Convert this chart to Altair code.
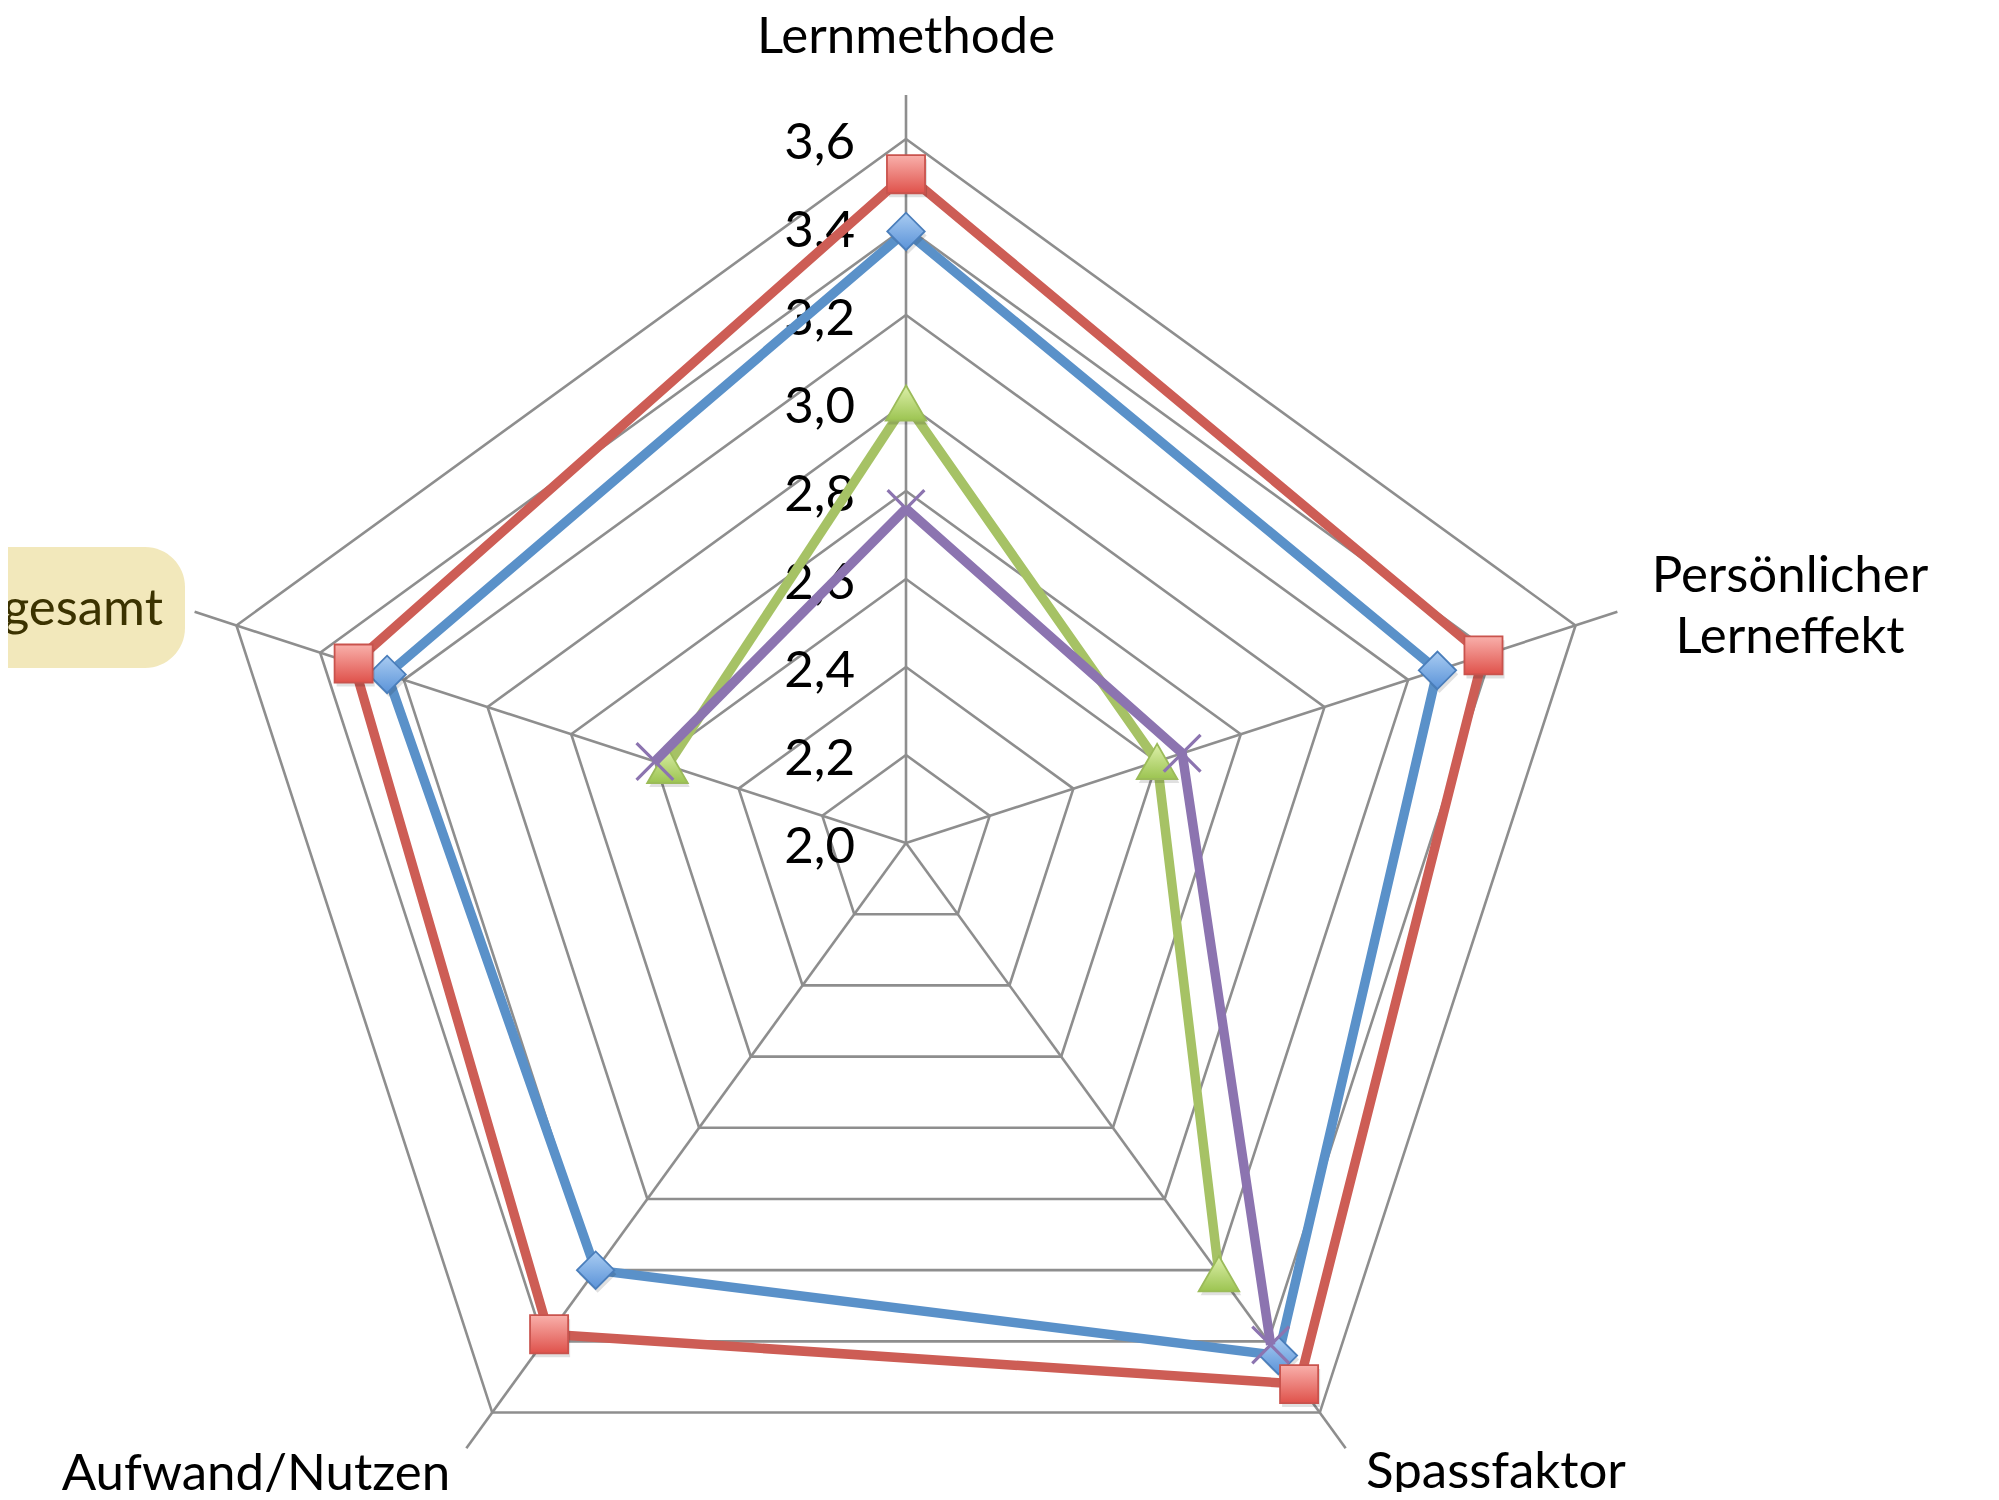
import math
import altair as alt
import pandas as pd

# ---------------- data ----------------
categories = ["Lernmethode", "Persönlicher Lerneffekt", "Spassfaktor", "Aufwand/Nutzen", "gesamt"]
series_names = ["Reihe 1", "Reihe 2", "Reihe 3", "Reihe 4"]
blue_values = [3.39, 3.27, 3.44, 3.20, 3.24]
red_values = [3.52, 3.38, 3.52, 3.38, 3.32]
green_values = [3.00, 2.60, 3.21, None, 2.57]
purple_values = [2.76, 2.66, 3.41, None, 2.60]
tick_values = [2.0, 2.2, 2.4, 2.6, 2.8, 3.0, 3.2, 3.4, 3.6]
tick_labels = ["2,0", "2,2", "2,4", "2,6", "2,8", "3,0", "3,2", "3,4", "3,6"]
axis_min = 2.0
spoke_max = 3.7

# ---------------- layout ----------------
W, H = 1983, 1484
CX, CY = 898, 835
K = 440.0
FONT = "Lato"
FS = 51

xscale = alt.Scale(domain=[-CX / K, (W - CX) / K], range=[0, W], nice=False, zero=False)
yscale = alt.Scale(domain=[-(H - CY) / K, CY / K], range=[H, 0], nice=False, zero=False)


def polar(value, idx):
    r = value - axis_min
    ang = math.radians(72 * idx)
    return r * math.sin(ang), r * math.cos(ang)


def X(f="x"):
    return alt.X(f"{f}:Q", scale=xscale, axis=None)


def Y(f="y"):
    return alt.Y(f"{f}:Q", scale=yscale, axis=None)


GRID = "#8E8E8E"

# rings
ring_rows = []
for lvl in tick_values[1:]:
    for j in range(6):
        x, y = polar(lvl, j % 5)
        ring_rows.append({"level": lvl, "ord": j, "x": x, "y": y})
rings = alt.Chart(pd.DataFrame(ring_rows)).mark_line(color=GRID, strokeWidth=2.6).encode(
    x=X(), y=Y(), detail="level:N", order="ord:Q"
)

# spokes
spoke_rows = []
for i in range(5):
    x2, y2 = polar(spoke_max, i)
    spoke_rows.append({"x": 0.0, "y": 0.0, "x2": x2, "y2": y2})
spokes = alt.Chart(pd.DataFrame(spoke_rows)).mark_rule(color=GRID, strokeWidth=2.6).encode(
    x=X(), y=Y(), x2="x2:Q", y2="y2:Q"
)

# tick labels
tick_df = pd.DataFrame({"x": [0.0] * len(tick_values),
                        "y": [v - axis_min for v in tick_values],
                        "label": tick_labels})
ticks = alt.Chart(tick_df).mark_text(
    align="right", baseline="middle", dx=-51, dy=5, font=FONT, fontSize=FS, color="black"
).encode(x=X(), y=Y(), text="label:N")


def grad(c1, c2):
    return alt.Gradient(
        gradient="linear",
        stops=[alt.GradientStop(color=c1, offset=0), alt.GradientStop(color=c2, offset=1)],
        x1=0, x2=0, y1=0, y2=1,
    )


series = [
    (series_names[0], blue_values, "#5A91C9",
     dict(shape="diamond", size=1400, fill=grad("#A9CCF2", "#5B93D8"), stroke="#4A7EBB", strokeWidth=1.8, filled=True)),
    (series_names[1], red_values, "#CD5D55",
     dict(shape="square", size=1450, fill=grad("#F9B0AB", "#DF524B"), stroke="#C9534D", strokeWidth=1.8, filled=True)),
    (series_names[2], green_values, "#A6C265",
     dict(shape="triangle-up", size=1650, fill=grad("#DDF0AA", "#9CC451"), stroke="#9BBB59", strokeWidth=1.8, filled=True)),
    (series_names[3], purple_values, "#8C74B0",
     dict(shape="M-1,-1L1,1M-1,1L1,-1", size=1350, filled=False, stroke="#8C74B0", strokeWidth=3.2, fill=None)),
]

series_layers = []
for name, vals, color, mk in series:
    seq = list(range(5)) + [0]
    rows = []
    seg = 0
    k = 0
    for idx in seq:
        v = vals[idx]
        if v is None:
            seg += 1
            continue
        x, y = polar(v, idx)
        rows.append({"seg": seg, "ord": k, "x": x, "y": y})
        k += 1
    line = alt.Chart(pd.DataFrame(rows)).mark_line(color=color, strokeWidth=9.5).encode(
        x=X(), y=Y(), detail="seg:N", order="ord:Q"
    )
    pts = []
    for idx, v in enumerate(vals):
        if v is None:
            continue
        x, y = polar(v, idx)
        pts.append({"series": name, "category": categories[idx], "value": v, "x": x, "y": y})
    pdf = pd.DataFrame(pts)
    mk = {a: b for a, b in mk.items() if b is not None}
    layers = [line]
    if mk.get("filled"):
        shadow = alt.Chart(pdf).mark_point(
            shape=mk["shape"], size=mk["size"], filled=True, fill="#000000", opacity=0.12,
            strokeWidth=0, xOffset=2, yOffset=4,
        ).encode(x=X(), y=Y())
        layers.append(shadow)
    marker = alt.Chart(pdf).mark_point(**mk, opacity=1).encode(x=X(), y=Y())
    layers.append(marker)
    series_layers.extend(layers)

# category labels (pixel positions in view space)
lab_df = pd.DataFrame({
    "px": [898, 1782, 1488, 248],
    "py": [45, 584, 1480, 1482],
    "label": ["Lernmethode", "Persönlicher\nLerneffekt", "Spassfaktor", "Aufwand/Nutzen"],
})
cat_labels = alt.Chart(lab_df).mark_text(
    align="center", baseline="alphabetic", font=FONT, fontSize=FS, color="black",
    lineBreak="\n", lineHeight=61,
).encode(x=alt.X("px:Q", scale=None), y=alt.Y("py:Q", scale=None), text="label:N")

box_df = pd.DataFrame({"bx": [-60], "bx2": [177], "by": [539], "by2": [660]})
gbox = alt.Chart(box_df).mark_rect(cornerRadius=40, fill="#F2E8BB").encode(
    x=alt.X("bx:Q", scale=None), x2="bx2:Q", y=alt.Y("by:Q", scale=None), y2="by2:Q"
)
g_df = pd.DataFrame({"px": [155], "py": [617], "label": [categories[4]]})
gtext = alt.Chart(g_df).mark_text(
    align="right", baseline="alphabetic", font=FONT, fontSize=FS, color="#3B3200"
).encode(x=alt.X("px:Q", scale=None), y=alt.Y("py:Q", scale=None), text="label:N")

chart = alt.layer(
    rings, spokes, ticks, *series_layers, cat_labels, gbox, gtext
).properties(
    width=W, height=H, padding=0, autosize=alt.AutoSizeParams(type="none"), background="white"
).configure_view(stroke=None)

chart.save("out.html", embed_options={"renderer": "svg", "actions": False})
